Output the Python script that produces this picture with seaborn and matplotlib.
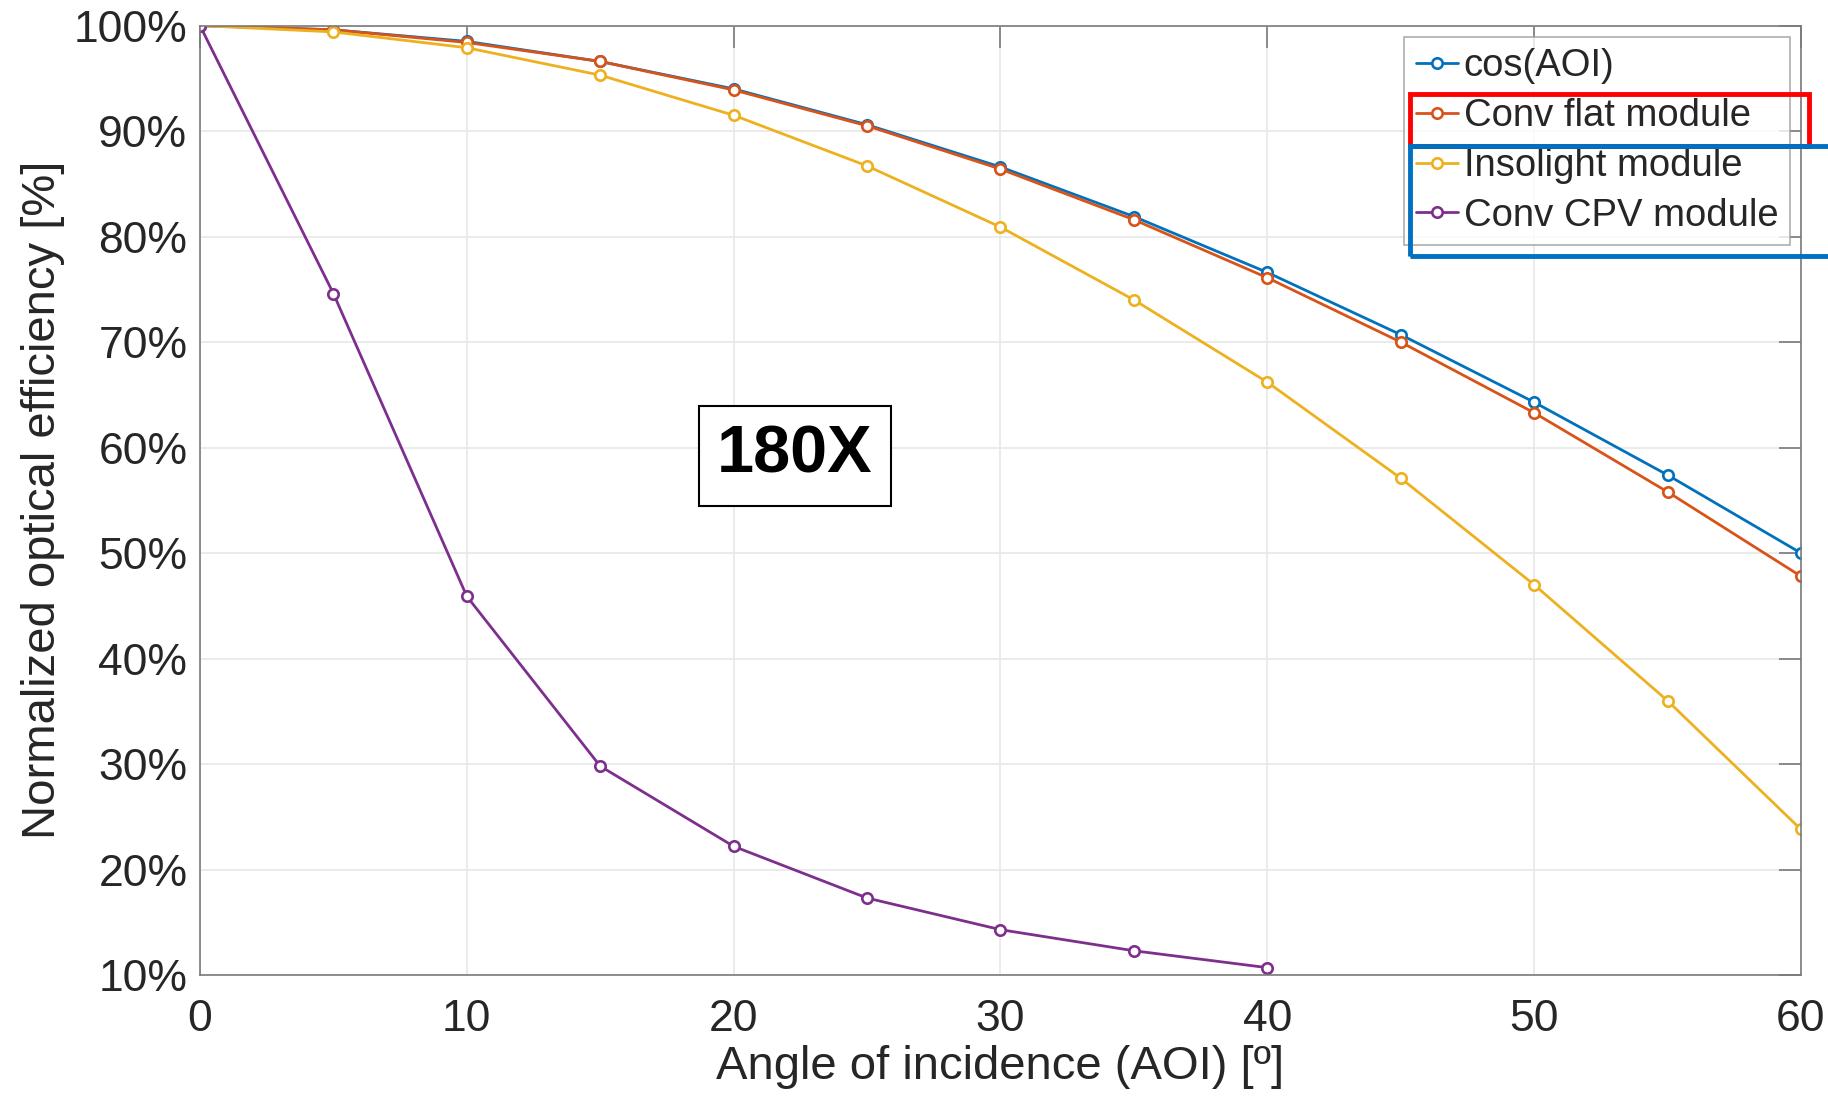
import numpy as np
import pandas as pd
import matplotlib
matplotlib.use("Agg")
import matplotlib.pyplot as plt
from matplotlib.ticker import PercentFormatter
from matplotlib.patches import Rectangle
import seaborn as sns

# values
angles = [0, 5, 10, 15, 20, 25, 30, 35, 40, 45, 50, 55, 60]
cos_aoi = [100, 99.6, 98.5, 96.6, 94.0, 90.6, 86.6, 81.9, 76.6, 70.7, 64.3, 57.4, 50.0]
conv_flat = [100, 99.6, 98.4, 96.6, 93.9, 90.5, 86.4, 81.6, 76.1, 70.0, 63.3, 55.8, 47.8]
insolight = [100, 99.4, 97.9, 95.3, 91.5, 86.7, 80.9, 74.0, 66.2, 57.1, 47.0, 36.0, 23.8]
conv_cpv = [100, 74.6, 45.9, 29.8, 22.2, 17.3, 14.3, 12.3, 10.7]

labels = ["cos(AOI)", "Conv flat module", "Insolight module", "Conv CPV module"]
colors = ["#0072BD", "#D95319", "#EDB120", "#7E2F8E"]

sns.set_style("white")
plt.rcParams["font.family"] = ["Liberation Sans", "DejaVu Sans"]

fig = plt.figure(figsize=(18.28, 10.98), dpi=100)
ax = fig.add_axes([0.1094, 0.112, 0.8758, 0.8647])

for lab, col, vals in zip(labels, colors, [cos_aoi, conv_flat, insolight, conv_cpv]):
    sns.lineplot(x=angles[:len(vals)], y=vals, color=col, label=lab, ax=ax, sort=False,
                 marker="o", markersize=7.5, markerfacecolor="white", markeredgecolor=col,
                 markeredgewidth=1.9, linewidth=2.0)

ax.set_xlim(0, 60)
ax.set_ylim(10, 100)
ax.set_xticks(range(0, 61, 10))
ax.set_yticks(range(10, 101, 10))
ax.yaxis.set_major_formatter(PercentFormatter(decimals=0))

ax.grid(True, color="#e8e8e8", linewidth=1.2)
ax.set_axisbelow(True)
for sp in ax.spines.values():
    sp.set_visible(True)
    sp.set_color("#7a7a7a")
    sp.set_linewidth(1.2)
ax.tick_params(axis="both", direction="in", length=16, width=1.2, color="#7a7a7a",
               labelsize=32, labelcolor="#262626", top=True, right=True)
ax.tick_params(axis="x", pad=17)
ax.tick_params(axis="y", pad=9)

ax.set_xlabel("Angle of incidence (AOI) [º]", fontsize=34, color="#262626", labelpad=4)
ax.set_ylabel("Normalized optical efficiency [%]", fontsize=34, color="#262626", labelpad=6)

ax.text(22.3, 59.2, "180X", fontsize=48, fontweight="bold", color="black", ha="center", va="center",
        bbox=dict(boxstyle="square,pad=0.28", facecolor="white", edgecolor="black", linewidth=1.5))

leg = ax.legend(loc="upper right", bbox_to_anchor=(0.993, 0.988), borderaxespad=0,
                fontsize=27.5, frameon=True, fancybox=False, edgecolor="#9a9a9a",
                handlelength=1.1, handletextpad=0.15, labelspacing=0.36, borderpad=0.3)
leg.get_frame().set_linewidth(1.2)

# highlight boxes drawn over the legend
fig.add_artist(Rectangle((1410 / 1828, 1 - 146 / 1098), 399 / 1828, 52 / 1098,
                         transform=fig.transFigure, fill=False, edgecolor="#FF0000", linewidth=3.5))
fig.add_artist(Rectangle((1410 / 1828, 1 - 256 / 1098), 430 / 1828, 110 / 1098,
                         transform=fig.transFigure, fill=False, edgecolor="#0070C0", linewidth=3.5,
                         clip_on=False))

fig.savefig("out.png", dpi=100)
